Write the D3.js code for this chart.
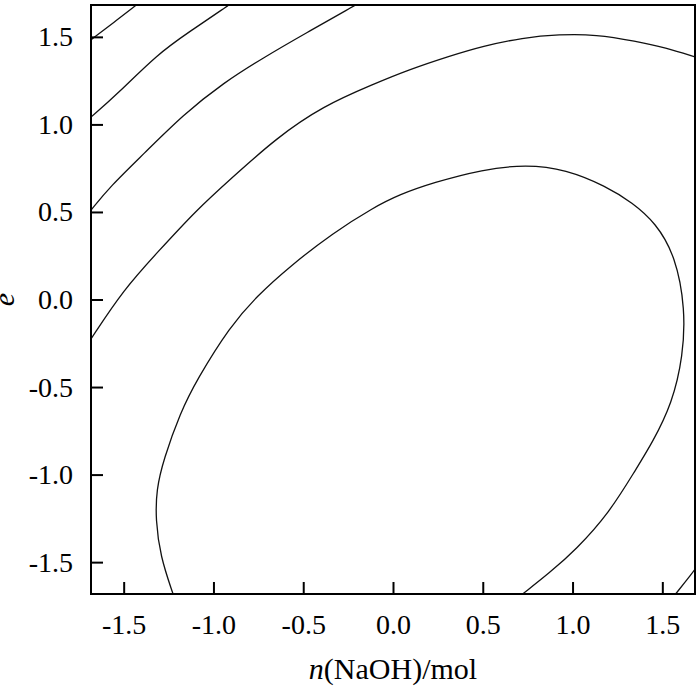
<!DOCTYPE html>
<html>
<meta charset="utf-8">
<style type="text/css">
  body { margin: 0; background: #fff; }
  svg { display: block; }
</style>
<body>
<svg width="700" height="689"></svg>
<script src="https://d3js.org/d3.v7.min.js"></script>
<script>

// contour lines, [n(NaOH), e] in coded units
const contourA = [[-1.682, 1.483], [-1.667, 1.495], [-1.556, 1.581], [-1.43, 1.682]];
const contourB = [[-1.682, 1.042], [-1.537, 1.171], [-1.314, 1.4], [-1.129, 1.533], [-0.926, 1.673], [-0.915, 1.682]];
const contourC = [[-1.682, 0.51], [-1.574, 0.647], [-1.39, 0.83], [-1.167, 1.057], [-0.944, 1.238],
                  [-0.722, 1.381], [-0.481, 1.524], [-0.222, 1.673], [-0.21, 1.682]];
const contourD = [[-1.682, -0.225], [-1.5, 0.057], [-1.314, 0.267], [-1.092, 0.514], [-0.907, 0.686],
                  [-0.648, 0.924], [-0.389, 1.105], [-0.111, 1.229], [0.093, 1.314], [0.315, 1.39],
                  [0.5, 1.447], [0.722, 1.495], [0.926, 1.514], [1.13, 1.514], [1.352, 1.476],
                  [1.519, 1.438], [1.682, 1.385]];
const contourE = [[-1.225, -1.682], [-1.296, -1.467], [-1.322, -1.257], [-1.318, -1.086], [-1.278, -0.914],
                  [-1.185, -0.647], [-1.092, -0.457], [-0.907, -0.153], [-0.759, 0.019], [-0.574, 0.19],
                  [-0.333, 0.381], [-0.111, 0.524], [0.037, 0.6], [0.222, 0.667], [0.5, 0.743],
                  [0.741, 0.771], [0.963, 0.743], [1.186, 0.647], [1.333, 0.553], [1.463, 0.438],
                  [1.574, 0.247], [1.628, -0.057], [1.615, -0.324], [1.556, -0.59], [1.444, -0.819],
                  [1.352, -0.971], [1.204, -1.219], [1.019, -1.429], [0.871, -1.562], [0.722, -1.682]];
const contourF = [[1.574, -1.682], [1.667, -1.562], [1.682, -1.54]];
const contours = [contourA, contourB, contourC, contourD, contourE, contourF];

const xTicks = [-1.5, -1.0, -0.5, 0.0, 0.5, 1.0, 1.5];
const yTicks = [-1.5, -1.0, -0.5, 0.0, 0.5, 1.0, 1.5];
const alpha = 1.682;   // axial distance of the design

const serif = '"Liberation Serif", "Times New Roman", serif';

const svg = d3.select('svg');
const margin = {top: 5, bottom: 95, left: 91, right: 5};
const innerWidth = +svg.attr('width') - margin.left - margin.right;
const innerHeight = +svg.attr('height') - margin.top - margin.bottom;

const xScale = d3.scaleLinear().domain([-alpha, alpha]).range([0, innerWidth]);
const yScale = d3.scaleLinear().domain([-alpha, alpha]).range([innerHeight, 0]);

const g = svg.append('g')
  .attr('transform', `translate(${margin.left},${margin.top})`);

g.append('clipPath').attr('id', 'plotClip')
  .append('rect').attr('width', innerWidth).attr('height', innerHeight);

// contour lines
const line = d3.line()
  .x(d => xScale(d[0]))
  .y(d => yScale(d[1]))
  .curve(d3.curveBasis);

g.append('g').attr('clip-path', 'url(#plotClip)')
  .selectAll('path').data(contours)
  .enter().append('path')
  .attr('d', line)
  .attr('fill', 'none')
  .attr('stroke', '#111')
  .attr('stroke-width', 1.3);

// axes, ticks pointing inward
const fmt = d => d.toFixed(1);
const xAxis = d3.axisBottom(xScale).tickValues(xTicks).tickFormat(fmt)
  .tickSizeInner(-12).tickSizeOuter(0).tickPadding(20);
const yAxis = d3.axisLeft(yScale).tickValues(yTicks).tickFormat(fmt)
  .tickSizeInner(-12).tickSizeOuter(0).tickPadding(18);

const xAxisG = g.append('g').attr('transform', `translate(0,${innerHeight})`).call(xAxis);
const yAxisG = g.append('g').call(yAxis);

[xAxisG, yAxisG].forEach(a => {
  a.attr('font-family', serif).attr('font-size', 28);
  a.select('.domain').remove();
  a.selectAll('line').attr('stroke', '#000').attr('stroke-width', 2);
  a.selectAll('text').attr('fill', '#000');
});

// frame
g.append('rect')
  .attr('width', innerWidth)
  .attr('height', innerHeight)
  .attr('fill', 'none')
  .attr('stroke', '#000')
  .attr('stroke-width', 2);

// axis titles
const xTitle = svg.append('text')
  .attr('x', margin.left + innerWidth / 2)
  .attr('y', 679)
  .attr('text-anchor', 'middle')
  .attr('font-family', serif)
  .attr('font-size', 30);
xTitle.append('tspan').attr('font-style', 'italic').text('n');
xTitle.append('tspan').text('(NaOH)/mol');

svg.append('text')
  .attr('transform', `translate(14,${margin.top + yScale(0)}) rotate(-90)`)
  .attr('text-anchor', 'middle')
  .attr('font-family', serif)
  .attr('font-size', 30)
  .attr('font-style', 'italic')
  .text('e');

</script>
</body>
</html>
